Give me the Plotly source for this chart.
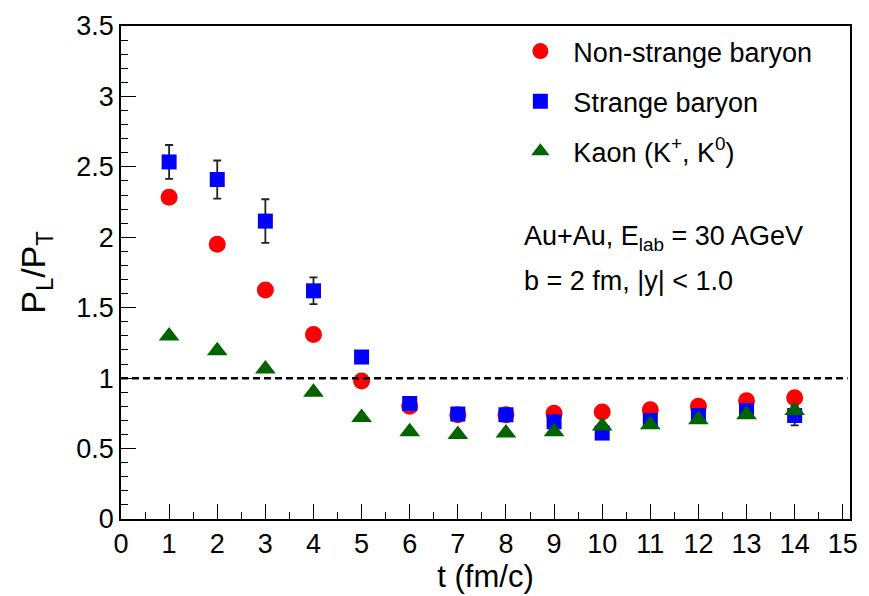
import plotly.graph_objects as go

t = [1, 2, 3, 4, 5, 6, 7, 8, 9, 10, 11, 12, 13, 14]
non_strange = [2.285, 1.95, 1.625, 1.31, 0.98, 0.80, 0.74, 0.74, 0.75, 0.76, 0.775, 0.80, 0.84, 0.86]
non_strange_err = [0.01] * 14
strange = [2.535, 2.41, 2.115, 1.62, 1.15, 0.82, 0.745, 0.74, 0.69, 0.61, 0.70, 0.735, 0.77, 0.735]
strange_err = [0.12, 0.135, 0.155, 0.095, 0.04, 0.02, 0.02, 0.02, 0.02, 0.02, 0.02, 0.02, 0.03, 0.07]
kaon = [1.30, 1.195, 1.065, 0.90, 0.72, 0.62, 0.60, 0.61, 0.62, 0.66, 0.67, 0.705, 0.74, 0.77]
kaon_err = [0.005] * 14

names = ["Non-strange baryon", "Strange baryon", "Kaon (K<sup>+</sup>, K<sup>0</sup>)"]
x_ticks = list(range(0, 16))
y_ticks = [0, 0.5, 1, 1.5, 2, 2.5, 3, 3.5]
y_tick_text = ["0", "0.5", "1", "1.5", "2", "2.5", "3", "3.5"]

FONT = "Liberation Sans, Arial, sans-serif"

fig = go.Figure()

def add_series(y, err, name, symbol, color, size, group):
    fig.add_trace(go.Scatter(
        x=t, y=y, mode="markers", name=name, legendgroup=group,
        marker=dict(symbol=symbol, color=color, size=size, line=dict(width=0)),
        error_y=dict(type="data", array=err, visible=True, color="#222222",
                     thickness=1.8, width=4),
    ))

add_series(non_strange, non_strange_err, names[0], "circle", "#ff0000", 17, "a")
add_series(strange, strange_err, names[1], "square", "#0000ff", 15, "b")
add_series(kaon, kaon_err, names[2], "triangle-up", "#006400", 18, "c")

fig.add_shape(type="line", xref="x", yref="y", x0=0, x1=15.1, y0=1, y1=1,
              line=dict(color="black", width=2.5, dash="7px,4px"))

fig.add_annotation(xref="paper", yref="paper", x=0.550, y=0.57, xanchor="left", yanchor="middle",
                   text="Au+Au, E<sub>lab</sub> = 30 AGeV", showarrow=False,
                   font=dict(family=FONT, size=27, color="black"))
fig.add_annotation(xref="paper", yref="paper", x=0.550, y=0.482, xanchor="left", yanchor="middle",
                   text="b = 2 fm, |y| < 1.0", showarrow=False,
                   font=dict(family=FONT, size=27, color="black"))

axis_common = dict(
    showline=True, linecolor="black", linewidth=1.5, mirror=True,
    ticks="inside", ticklen=15, tickwidth=1.2, tickcolor="black",
    showgrid=False, zeroline=False,
)

fig.update_layout(
    width=869, height=596,
    margin=dict(l=121, r=11, t=25, b=75),
    paper_bgcolor="white", plot_bgcolor="white",
    font=dict(family=FONT, color="black"),
    xaxis=dict(range=[0, 15.15], tickvals=x_ticks, ticktext=[str(v) for v in x_ticks],
               tickfont=dict(size=27, family=FONT),
               minor=dict(dtick=0.5, ticks="inside", ticklen=7, tickcolor="black", tickwidth=1.2),
               title=dict(text="t (fm/c)", font=dict(size=31, family=FONT), standoff=4),
               **axis_common),
    yaxis=dict(range=[0, 3.5], tickvals=y_ticks, ticktext=y_tick_text,
               tickfont=dict(size=27, family=FONT),
               minor=dict(dtick=0.1, ticks="inside", ticklen=7, tickcolor="black", tickwidth=1.2),
               title=dict(text="P<sub>L</sub>/P<sub>T</sub>", font=dict(size=34, family=FONT), standoff=20),
               **axis_common),
    legend=dict(x=0.53, y=0.998, xanchor="left", yanchor="top",
                bgcolor="rgba(0,0,0,0)", borderwidth=0,
                font=dict(size=27, family=FONT), itemwidth=56,
                tracegroupgap=12),
    showlegend=True,
)

fig.write_html("out.html")
